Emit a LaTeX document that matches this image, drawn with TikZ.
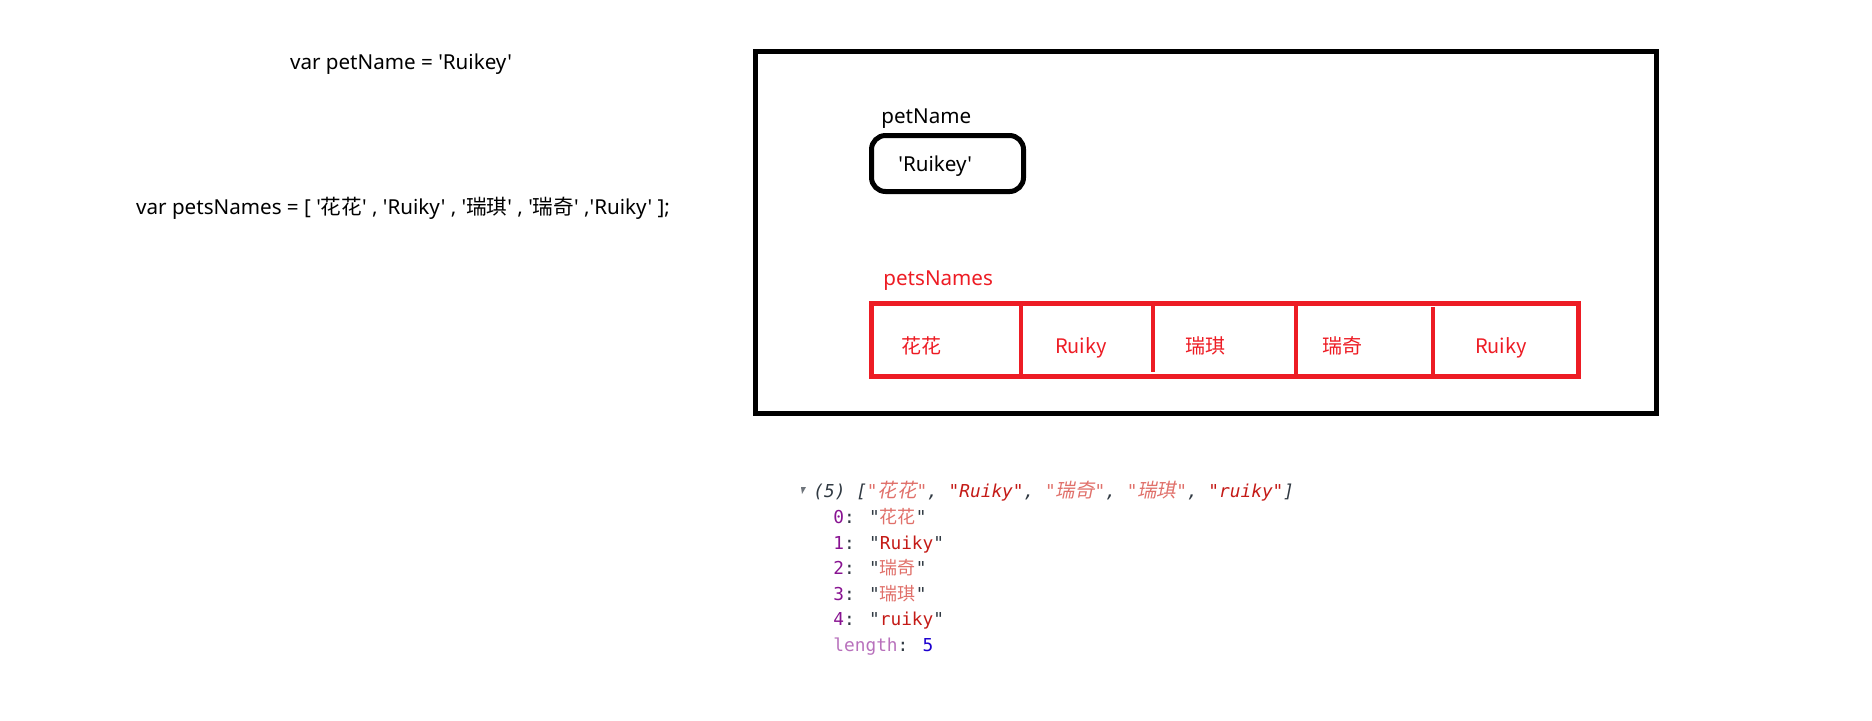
\documentclass[tikz,border=0pt]{standalone}
\usepackage{fontspec}
\newfontfamily\lat{Noto Sans}[Ligatures=TeXOff]
\newfontfamily\cjk{Noto Sans CJK SC}[Ligatures=TeXOff]
\newfontfamily\cjkit{Noto Sans CJK SC}[FakeSlant=0.2,Ligatures=TeXOff]
\newfontfamily\mono{DejaVu Sans Mono}[Ligatures=TeXOff]
\definecolor{pred}{HTML}{ED1C24}
\definecolor{sred}{HTML}{C41A16}
\definecolor{lred}{HTML}{E0706A}
\definecolor{ipurple}{HTML}{881391}
\definecolor{lpurple}{HTML}{B871BC}
\definecolor{nblue}{HTML}{1C00CF}
\definecolor{cgray}{HTML}{303942}
\tikzset{
  txt/.style={inner sep=0pt, font=\lat\fontsize{10.3pt}{12pt}\selectfont},
  celltxt/.style={inner sep=0pt, text=pred, font=\cjk\fontsize{10pt}{12pt}\selectfont},
  con/.style={inner sep=0pt, anchor=base west, font=\mono\fontsize{8.9pt}{11pt}\selectfont},
  frame/.style={draw=black, line width=2.5pt},
  redframe/.style={draw=pred, line width=2.25pt},
  divider/.style={draw=pred, line width=2pt}
}
\newcommand{\zh}[1]{{\cjk #1}}
\newcommand{\cs}[1]{{\cjk\fontsize{9pt}{11pt}\selectfont #1}}
\newcommand{\csi}[1]{{\cjkit\fontsize{9.7pt}{11pt}\selectfont #1}}
\begin{document}
\begin{tikzpicture}[x=0.5pt,y=-0.5pt]
\useasboundingbox (0,0) rectangle (1872,720);
% code lines
\node[txt] (code1) at (401,64) {var petName = 'Ruikey'};
\node[txt] (code2) at (403,208) {var petsNames = [ '\zh{花花}' , 'Ruiky' , '\zh{瑞琪}' , '\zh{瑞奇}' ,'Ruiky' ];};
% memory frame
\draw[frame] (755,51.5) rectangle (1656.5,413.5);
\node[txt, anchor=base west] (lblname) at (881,123) {petName};
\draw[frame, rounded corners=7pt] (871.5,135.5) rectangle (1023.5,191.5);
\node[txt, anchor=base west] (valname) at (898,171) {'Ruikey'};
\node[txt, anchor=base west, text=pred] (lblnames) at (883,285) {petsNames};
\draw[redframe] (871.5,303.5) rectangle (1578.5,376.5);
\draw[divider] (1021,305) -- (1021,375);
\draw[divider] (1153,305) -- (1153,372);
\draw[divider] (1296,305) -- (1296,379);
\draw[divider] (1433,307) -- (1433,375);
\node[celltxt, anchor=base] (c0) at (921.5,353) {花花};
\node[celltxt, anchor=base] (c1) at (1081,353) {Ruiky};
\node[celltxt, anchor=base] (c2) at (1205,353) {瑞琪};
\node[celltxt, anchor=base] (c3) at (1342,353) {瑞奇};
\node[celltxt, anchor=base] (c4) at (1501,353) {Ruiky};
% console
\fill[cgray!70] (801,487) -- (806,487) -- (802,494) -- cycle;
\node[con, text=cgray] (l0) at (813,497) {\itshape (5) [\textcolor{lred}{"\csi{花花}"}, \textcolor{sred}{"Ruiky"}, \textcolor{lred}{"\csi{瑞奇}"}, \textcolor{lred}{"\csi{瑞琪}"}, \textcolor{sred}{"ruiky"}]};
\node[con, text=cgray] (l1) at (833,523) {\textcolor{ipurple}{0}: "\textcolor{lred}{\cs{花花}}"};
\node[con, text=cgray] (l2) at (833,549) {\textcolor{ipurple}{1}: "\textcolor{sred}{Ruiky}"};
\node[con, text=cgray] (l3) at (833,574) {\textcolor{ipurple}{2}: "\textcolor{lred}{\cs{瑞奇}}"};
\node[con, text=cgray] (l4) at (833,600) {\textcolor{ipurple}{3}: "\textcolor{lred}{\cs{瑞琪}}"};
\node[con, text=cgray] (l5) at (833,625) {\textcolor{ipurple}{4}: "\textcolor{sred}{ruiky}"};
\node[con, text=cgray] (l6) at (833,651) {\textcolor{lpurple}{length}: \textcolor{nblue}{5}};
\end{tikzpicture}
\end{document}
